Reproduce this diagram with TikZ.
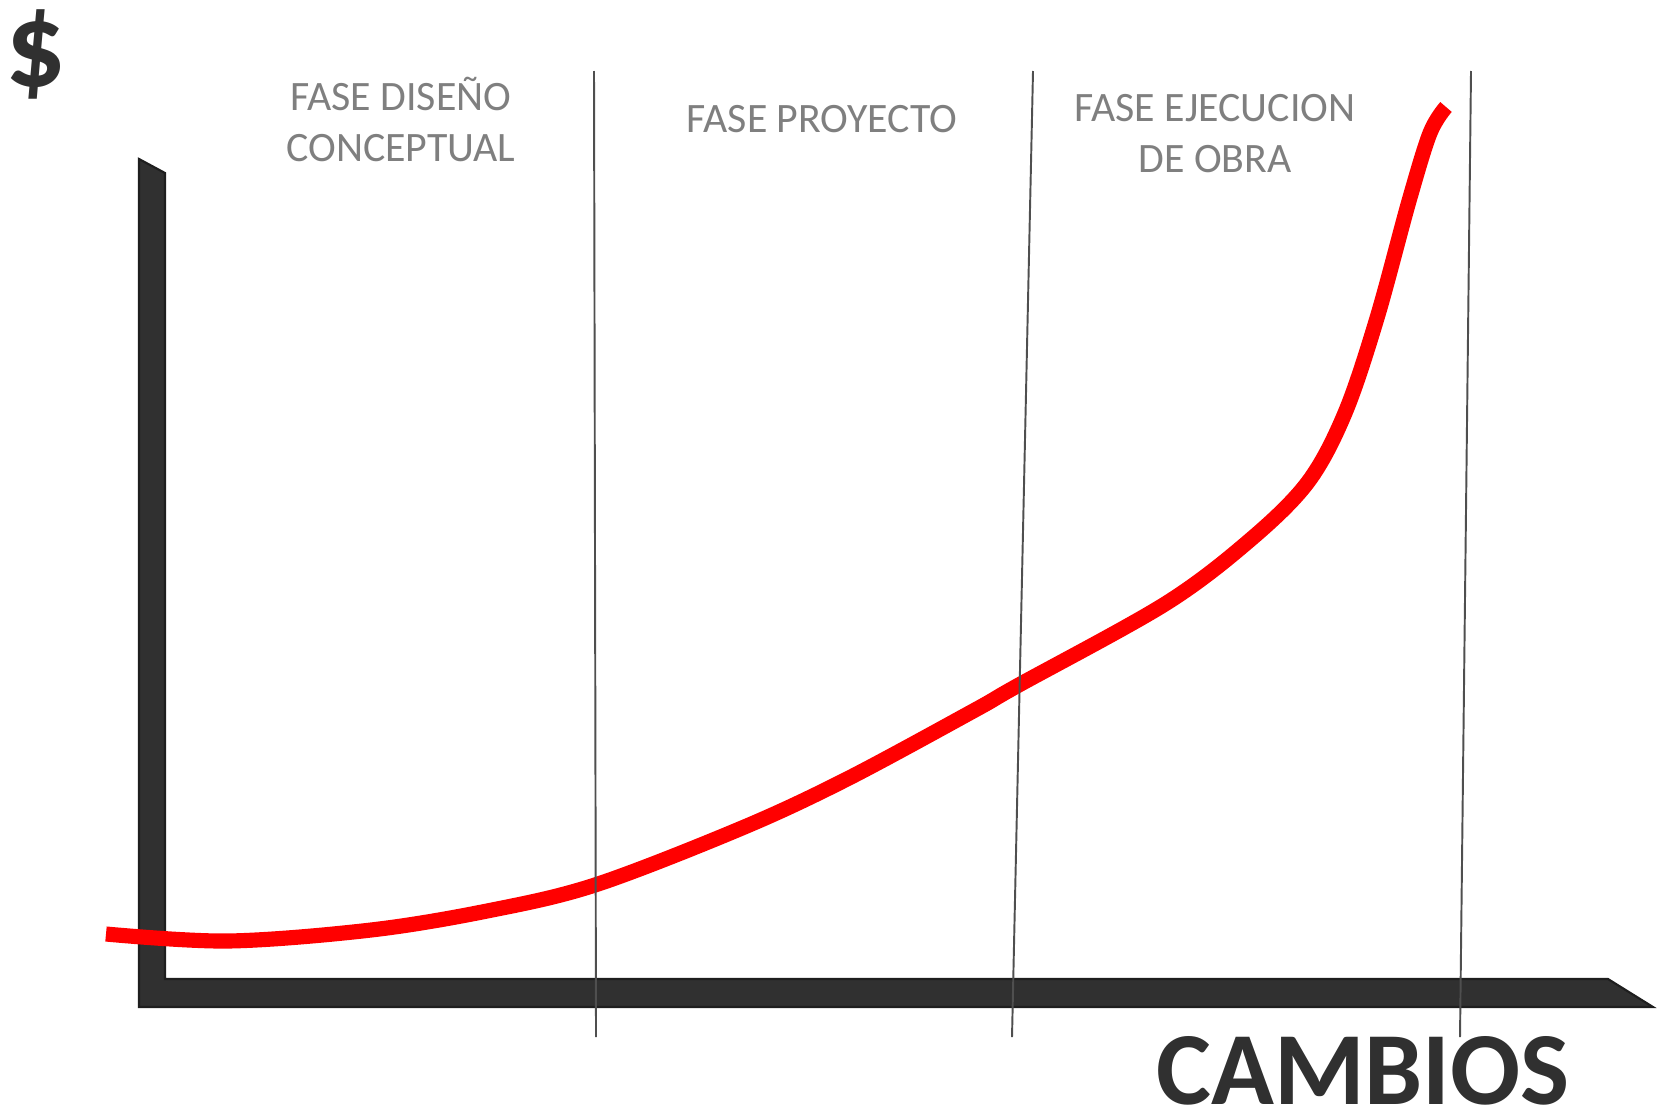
\documentclass[tikz,border=0pt]{standalone}
\usepackage{fontspec}
\setmainfont{Carlito}
\usepackage{tikz}
\usetikzlibrary{calc,positioning}
\definecolor{axisgray}{HTML}{303030}
\definecolor{axisedge}{HTML}{1E1E1E}
\definecolor{phasegray}{HTML}{7F7F7F}
\definecolor{costred}{HTML}{FF0000}

\begin{document}
\begin{tikzpicture}[x=0.01cm,y=-0.01cm,
        axis/.style={fill=axisgray,draw=axisedge,line width=0.6pt,line join=miter},
        divider/.style={draw=axisgray!85!white,line width=0.55pt},
        curve/.style={draw=costred,line width=4.3pt,line cap=butt},
        every node/.style={inner sep=0pt}]
        \tikzstyle{phase}=[text=phasegray,align=center,font=\fontsize{11.9}{14.5}\selectfont]
        \tikzstyle{bigtext}=[text=axisgray,font=\fontsize{29.5}{33}\selectfont\bfseries]
        \useasboundingbox (0,0) rectangle (1661,1115);
        % ejes
        \draw[axis] (139,159) -- (165,173) -- (165,979) -- (1608,979)
            -- (1653,1007) -- (139,1007) -- cycle;
        \node[bigtext,font=\fontsize{34}{38}\selectfont\bfseries](dollar) at (36,54){\$};
        \node[bigtext](cambios) at (1363,1071){CAMBIOS};
        % curva de costo
        \draw[curve] plot[smooth,tension=0.55] coordinates {(106,934) (228,941) (371,930)
            (487,911) (595,885) (742,828) (847,779) (975,710) (1017,686) (1165,604)
            (1250,540) (1308,482) (1345,413) (1377,318) (1409,201) (1430,133) (1446,107)};
        % fases
        \coordinate (d1a) at (594,71);  \coordinate (d1b) at (596,1037);
        \coordinate (d2a) at (1033,71); \coordinate (d2b) at (1012,1037);
        \coordinate (d3a) at (1471,71); \coordinate (d3b) at (1460,1037);
        \foreach \i in {1,2,3}
            \draw[divider] (d\i a) -- (d\i b);
        \node[phase](diseno) at (401,119){FASE DISEÑO\\CONCEPTUAL};
        \node[phase](proyecto) at (822,119){FASE PROYECTO};
        \node[phase](ejecucion) at (1215,134){FASE EJECUCION\\DE OBRA};
     \end{tikzpicture}
\end{document}
